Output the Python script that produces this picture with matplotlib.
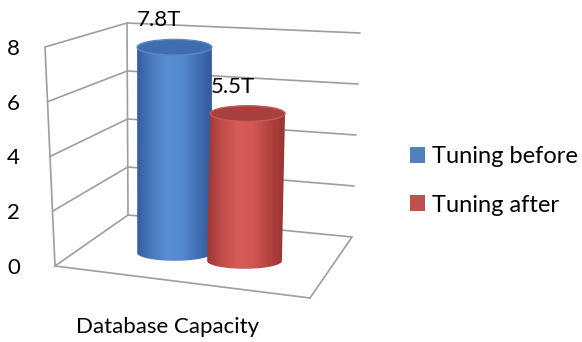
import matplotlib
matplotlib.use("Agg")

import matplotlib.pyplot as plt
import numpy as np
from matplotlib.colors import LinearSegmentedColormap
from matplotlib.patches import Ellipse, Patch, PathPatch
from matplotlib.path import Path

plt.rcParams["font.family"] = ["Lato", "DejaVu Sans"]

CATEGORY = "Database Capacity"
SERIES = ["Tuning before", "Tuning after"]
VALUES = [7.8, 5.5]
VALUE_LABELS = ["7.8T", "5.5T"]
Y_TICKS = [0, 2, 4, 6, 8]
Y_MAX = 8

# 3D frame, in figure pixels: (u, w) -> (floor corner, top corner)
# u runs left -> right, w runs front -> back
FRAME = {
    (0, 0): ((55, 266), (45, 47)),
    (0, 1): ((128, 215), (127, 23)),
    (1, 1): ((352, 237), (360, 33)),
    (1, 0): ((310, 298), (322, 68)),
}
U_POS = [0.36, 0.65]
DEPTH = 0.45
RADIUS = 0.155
GRID_COLOR = "#9e9e9e"

BODY_STOPS = [
    ["#335d9c", "#4a7cc0", "#5a8dd1", "#5589cd", "#4270b5", "#33599a"],
    ["#9c3835", "#c24e4b", "#d65c59", "#d15754", "#b3423f", "#983532"],
]
TOP_COLORS = ["#3f6db0", "#a8413e"]
RIM_COLORS = ["#5a88c8", "#c25a57"]
LEGEND_COLORS = ["#4f81bd", "#c0504d"]


def project(u, value, w):
    t = value / Y_MAX
    pts = {k: np.array(f) + t * (np.array(tp) - np.array(f)) for k, (f, tp) in FRAME.items()}
    front = pts[(0, 0)] * (1 - u) + pts[(1, 0)] * u
    back = pts[(0, 1)] * (1 - u) + pts[(1, 1)] * u
    return front * (1 - w) + back * w


def line3d(ax, p, q):
    ax.plot([p[0], q[0]], [p[1], q[1]], color=GRID_COLOR, lw=1.2,
            solid_capstyle="round", zorder=1)


def draw_cylinder(ax, u, value, stops, top_color, rim_color, zorder):
    base = project(u, 0, DEPTH)
    top = project(u, value, DEPTH)
    left = project(u - RADIUS, 0, DEPTH)
    right = project(u + RADIUS, 0, DEPTH)
    a = (right[0] - left[0]) / 2
    b = a * 0.21

    # side of the cylinder: straight top edge, rounded bottom
    theta = np.linspace(0, np.pi, 80)
    arc = np.column_stack([base[0] - a * np.cos(theta), base[1] + b * np.sin(theta)])
    verts = np.vstack([[top[0] - a, top[1]], arc, [top[0] + a, top[1]], [top[0] - a, top[1]]])
    codes = [Path.MOVETO] + [Path.LINETO] * (len(verts) - 2) + [Path.CLOSEPOLY]
    body = PathPatch(Path(verts, codes), facecolor="none", edgecolor="none", zorder=zorder)
    ax.add_patch(body)

    cmap = LinearSegmentedColormap.from_list("body", stops)
    grad = np.linspace(0, 1, 256)[None, :]
    x0 = min(top[0], base[0]) - a
    x1 = max(top[0], base[0]) + a
    img = ax.imshow(grad, cmap=cmap, extent=(x0, x1, base[1] + b, top[1] - b),
                    aspect="auto", interpolation="bicubic", zorder=zorder)
    img.set_clip_path(body)

    ax.add_patch(Ellipse((top[0], top[1]), 2 * a, 2 * b, facecolor=top_color,
                         edgecolor=rim_color, lw=1.0, zorder=zorder + 0.1))
    return top


fig = plt.figure(figsize=(5.82, 3.42), dpi=100)
ax = fig.add_axes([0, 0, 1, 1])

# walls and floor
for v in Y_TICKS:
    line3d(ax, project(0, v, 0), project(0, v, 1))
    line3d(ax, project(0, v, 1), project(1, v, 1))
line3d(ax, project(0, 0, 0), project(0, Y_MAX, 0))
line3d(ax, project(0, 0, 1), project(0, Y_MAX, 1))
line3d(ax, project(0, 0, 0), project(1, 0, 0))
line3d(ax, project(1, 0, 0), project(1, 0, 1))

for v in Y_TICKS:
    p = project(0, v, 0)
    ax.text(20, p[1] + 2, str(v), ha="right", va="center", fontsize=16, color="black")

for i, (u, val) in enumerate(zip(U_POS, VALUES)):
    top = draw_cylinder(ax, u, val, BODY_STOPS[i], TOP_COLORS[i], RIM_COLORS[i], zorder=3 + i)
    ax.text(top[0] - 15, top[1] - 27, VALUE_LABELS[i], ha="center", va="center",
            fontsize=16, color="black", zorder=10)

ax.text(168, 327, CATEGORY, ha="center", va="center", fontsize=16, color="black")

handles = [Patch(facecolor=c, edgecolor="none") for c in LEGEND_COLORS]
ax.legend(handles, SERIES, loc="center left", bbox_to_anchor=(393 / 582, 1 - 181 / 342),
          frameon=False, fontsize=17, handlelength=0.65, handleheight=0.65,
          handletextpad=0.3, labelspacing=1.15, borderpad=0.2)

ax.set_xlim(0, 582)
ax.set_ylim(342, 0)
ax.axis("off")

fig.savefig("out.png", dpi=100, facecolor="white")
